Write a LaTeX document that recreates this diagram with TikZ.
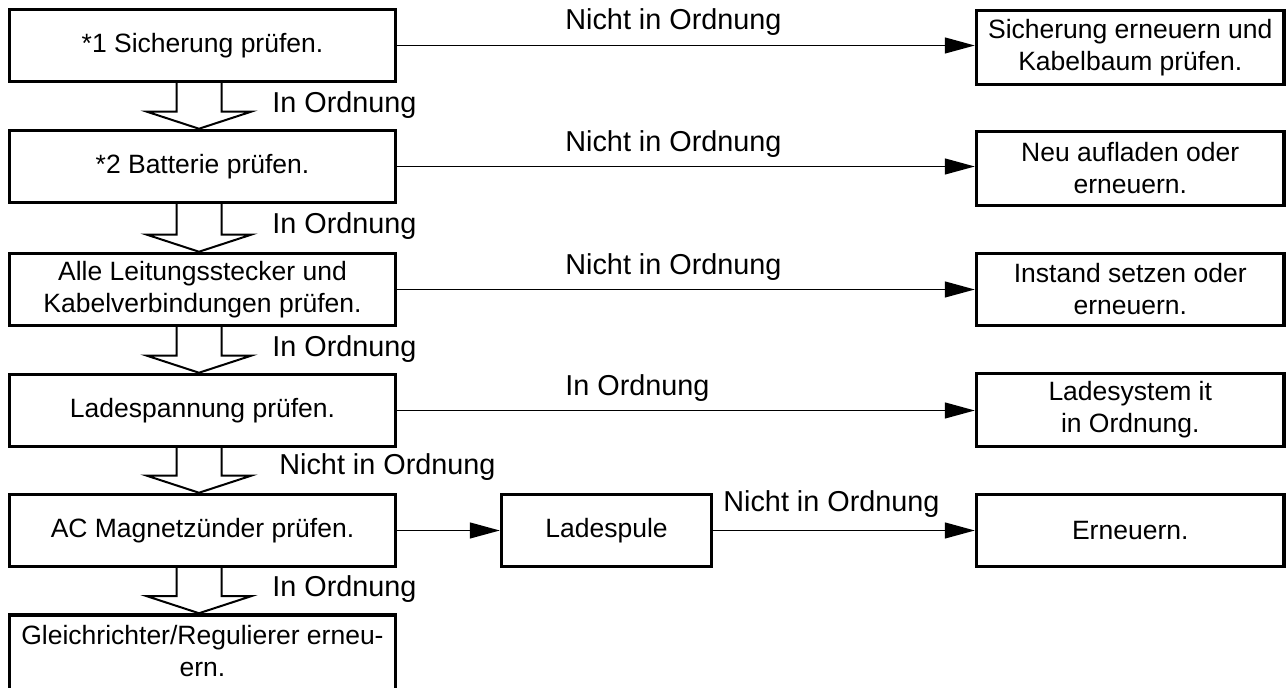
\documentclass[tikz,border=0pt]{standalone}
\usepackage{fontspec}
\setmainfont{Liberation Sans}
\usetikzlibrary{arrows.meta,calc}
\newcommand\boxfont{\fontsize{13.25pt}{16pt}\selectfont}
\newcommand\lblfont{\fontsize{14.4pt}{17pt}\selectfont}
\tikzset{
  frame/.style={draw, line width=1.75pt, inner sep=0pt, align=center, font=\boxfont},
  lwide/.style={frame, minimum width=193pt, minimum height=36pt},
  rwide/.style={frame, minimum width=153.75pt},
  lbl/.style={anchor=base west, inner sep=0pt, font=\lblfont},
  conn/.style={line width=0.65pt, -{Triangle[length=15pt,width=8pt]}},
  blk/.style={line width=1pt, line join=miter},
}
\newcommand\blkarrow[2]{%
  \draw[blk] ($(#1.south)+(-26,-2)$) -- ($(#2.north)+(-26,-17)$) -- ($(#2.north)+(-55.5,-17)$)
    -- ($(#2.north)+(-3.5,0)$) -- ($(#2.north)+(48.5,-17)$) -- ($(#2.north)+(19,-17)$)
    -- ($(#1.south)+(19,-2)$);}
\begin{document}
\begin{tikzpicture}[x=0.5pt,y=-0.5pt]
\useasboundingbox (0,0) rectangle (1287,688);
% left column
\node[lwide] (L1) at (202.5,45.5) {*1 Sicherung prüfen.};
\node[lwide] (L2) at (202.5,166.5) {*2 Batterie prüfen.};
\node[lwide] (L3) at (202.5,289.5) {Alle Leitungsstecker und\\Kabelverbindungen prüfen.};
\node[lwide] (L4) at (202.5,410.5) {Ladespannung prüfen.};
\node[lwide] (L5) at (202.5,530.5) {AC Magnetzünder prüfen.};
\node[frame, minimum width=193pt, minimum height=39pt] (L6) at (202.5,654)
  {\raisebox{3pt}{\begin{tabular}{@{}c@{}}Gleichrichter/Regulierer erneu-\\ern.\end{tabular}}};
% middle
\node[frame, minimum width=105pt, minimum height=36pt] (LS) at (606.5,530.5) {Ladespule};
% right column
\node[rwide, minimum height=37pt] (R1) at (1130.25,47.5) {Sicherung erneuern und\\Kabelbaum prüfen.};
\node[rwide, minimum height=37pt] (R2) at (1130.25,168.5) {Neu aufladen oder\\erneuern.};
\node[rwide, minimum height=36pt] (R3) at (1130.25,289.5) {Instand setzen oder\\erneuern.};
\node[rwide, minimum height=36.5pt] (R4) at (1130.25,410) {Ladesystem it\\in Ordnung.};
\node[rwide, minimum height=36pt] (R5) at (1130.25,530.5) {Erneuern.};
% block arrows
\blkarrow{L1}{L2}
\blkarrow{L2}{L3}
\blkarrow{L3}{L4}
\blkarrow{L4}{L5}
\blkarrow{L5}{L6}
% connectors
\draw[conn] (L1.east) -- (L1.east -| R1.west);
\draw[conn] (L2.east) -- (L2.east -| R2.west);
\draw[conn] (L3.east) -- (L3.east -| R3.west);
\draw[conn] (L4.east) -- (L4.east -| R4.west);
\draw[conn] (L5.east) -- (LS.west);
\draw[conn] (LS.east) -- (LS.east -| R5.west);
% labels
\node[lbl] (d1) at (272,113) {In Ordnung};
\node[lbl] (d2) at (272,234) {In Ordnung};
\node[lbl] (d3) at (272,357) {In Ordnung};
\node[lbl] (d4) at (279,475) {Nicht in Ordnung};
\node[lbl] (d5) at (272,597) {In Ordnung};
\node[lbl] (h1) at (565,30) {Nicht in Ordnung};
\node[lbl] (h2) at (565,151.5) {Nicht in Ordnung};
\node[lbl] (h3) at (565,274.5) {Nicht in Ordnung};
\node[lbl] (h4) at (565,396) {In Ordnung};
\node[lbl] (h5) at (723,512) {Nicht in Ordnung};
\end{tikzpicture}
\end{document}
